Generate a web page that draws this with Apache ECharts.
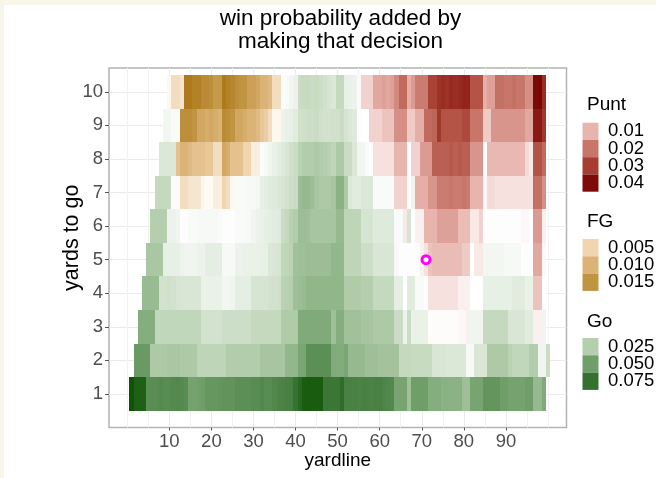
<!DOCTYPE html>
<html><head><meta charset="utf-8">
<style>
html,body{margin:0;padding:0;background:#f8f6ea;width:656px;height:478px;overflow:hidden}
#paper{position:absolute;left:4px;top:5px;width:652px;height:473px;background:#fff}
#chart{position:absolute;left:0;top:0;width:656px;height:478px;filter:blur(0.45px)}
</style>
<script src="https://cdn.jsdelivr.net/npm/echarts@6/dist/echarts.min.js"></script>
</head><body><div id="paper"></div><div id="chart"></div>
<script>
// segments: [decision, first yardline, values per yardline]
const row10=[['F',10,[.001,.004,.004,.003,.021,.021,.019,.019,.017,.017,.016,.014,.014,.021,.019,.018,.016,.015,.015,.013,.013,.012,.010,.010,.009,.004,.004]],
['G',37,[.001,.002,.004,.006,.018,.019,.019,.018,.019,.017,.016,.014,.012,.020,.020,.008,.007,.006,.002]],
['P',56,[.006,.006,.006,.012,.012,.013,.012,.013,.017,.022,.022,.011,.014,.019,.019,.019,.029,.029,.032,.033,.032,.034,.033,.034,.035,.035,.026,.026,.026,.011,.013,.013,.021,.021,.020,.020,.021,.020,.020,.016,.016,.042,.044,.033]]];
const row9=[['G',9,[.004,.004,.002,.002]],
['F',13,[.016,.016,.016,.015,.012,.012,.011,.012,.011,.010,.017,.016,.015,.012,.012,.011,.010,.010,.009,.007,.006,.004,.001,.001]],
['G',37,[.006,.007,.008,.010,.016,.016,.017,.017,.018,.016,.015,.015,.016,.016,.018,.014,.012,.011,.001,.000,.000]],
['P',58,[.006,.006,.006,.008,.008,.008,.016,.016,.016,.007,.007,.011,.011,.022,.022,.023,.031,.026,.026,.026,.026,.026,.028,.028,.020,.020,.020,.007,.007,.015,.015,.015,.015,.015,.015,.015,.015,.012,.012,.037,.037,.031]]];
const row8=[['G',8,[.012,.012,.012,.012]],
['F',12,[.008,.010,.010,.009,.008,.008,.008,.007,.007,.004,.004,.012,.011,.008,.008,.008,.005,.005,.002,.002]],
['G',32,[.001,.003,.005,.007,.009,.011,.013,.016,.018,.024,.026,.026,.026,.028,.026,.025,.024,.022,.028,.028,.018,.018,.012,.005,.004,.002,.001]],
['P',59,[.004,.004,.004,.004,.004,.010,.010,.010,.000,.006,.006,.014,.014,.014,.024,.024,.024,.024,.025,.024,.025,.024,.024,.015,.015,.015,.000,.0095,.0095,.0095,.0095,.0095,.0095,.0095,.0095,.0095,.005,.003,.026,.026,.022]]];
const row7=[['G',7,[.020,.020,.020,.020]],
['F',11,[.0004,.0006,.004,.004,.003,.003,.003,.001,.0005,.0005,.002,.002,.005,.004,.001]],
['G',26,[.002,.002,.002,.003,.003,.004,.008,.009,.010,.011,.012,.014,.015,.017,.018,.034,.036,.036,.034,.030,.028,.028,.028,.030,.040,.040,.028,.012,.010,.010,.012,.012,.012,.002,.002,.002,.002,.002]],
['P',64,[.006,.006,.006]],['G',67,[.001,.005]],
['P',69,[.011,.011,.011,.015,.015,.019,.019,.019,.020,.019,.019,.020,.019,.010,.010,.010,.001,.005,.005,.004,.004,.004,.004,.004,.004,.004,.004,.004,.021,.021,.016]]];
const row6=[['G',6,[.025,.025,.025,.025,.006,.006,.005,.001,.001,.002,.002,.003,.003,.003,.003,.003,.002,.001,.001,.001,.002,.002,.002,.003,.005,.006,.007,.008,.009,.010,.011,.018,.020,.024,.026,.034,.034,.033,.030,.030,.030,.030,.030,.030,.036,.036,.022,.022,.022,.022,.014,.014,.014,.011,.011,.011,.011,.011,.002,.002]],
['P',66,[.003]],['G',67,[.014,.000]],
['P',69,[.002,.002,.010,.010,.010,.013,.013,.013,.013,.013,.009,.009,.009,.003,.003,.006]],
['G',85,[.001,.001,.001,.001,.001,.001,.001,.001,.001]],
['P',94,[.001,.001,.000,.014,.014,.002]]];
const row5=[['G',5,[.029,.029,.029,.029,.008,.008,.008,.008,.006,.005,.005,.005,.006,.006,.009,.009,.009,.009,.003,.003,.003,.006,.006,.007,.007,.007,.007,.008,.008,.012,.013,.014,.021,.022,.023,.032,.033,.033,.034,.034,.034,.034,.034,.034,.037,.038,.037,.022,.022,.022,.022,.017,.017,.017,.013,.013,.013,.013,.013,.003,.001,.001,.001,.001,.001]],
['P',70,[.002,.004,.008,.009,.009,.009,.009,.009,.009,.009,.007,.007,.000,.003,.003]],
['G',85,[.004,.004,.004,.004,.004,.003,.003,.003,.003,.001,.001,.001]],
['P',97,[.012,.012,.001]]];
const row4=[['G',4,[.035,.035,.035,.035,.015,.015,.016,.015,.014,.013,.013,.013,.013,.013,.007,.007,.007,.007,.007,.004,.004,.005,.009,.009,.009,.009,.014,.014,.014,.014,.015,.015,.016,.023,.024,.025,.033,.034,.035,.038,.038,.038,.038,.038,.038,.038,.038,.038,.027,.027,.027,.027,.025,.025,.025,.020,.020,.020,.020,.020,.009,.009,.000,.010,.010,.002,.002,.000]],
['P',72,[.004,.004,.004,.004,.004,.004,.004,.002,.002,.002,.000,.000,.000]],
['G',85,[.008,.008,.008,.008,.008,.008,.008,.010,.010,.010,.007,.007]],
['P',97,[.008,.008]],['G',99,[.001]]];
const row3=[['G',3,[.042,.042,.042,.042,.021,.021,.021,.021,.021,.021,.021,.021,.021,.021,.021,.015,.015,.015,.015,.015,.017,.017,.017,.017,.017,.017,.017,.020,.020,.020,.020,.020,.020,.020,.027,.027,.027,.027,.044,.044,.044,.044,.044,.044,.044,.044,.033,.042,.042,.032,.032,.032,.032,.030,.030,.030,.028,.028,.028,.028,.028,.018,.018,.006,.018,.007,.007,.007,.007]],
['P',72,[.0005,.0005,.0005,.0005,.0005,.0005,.0005,.001,.001,.002]],
['G',82,[.005,.005,.005,.020,.020,.020,.020,.020,.020,.013,.013,.013,.013,.010,.010]],
['P',97,[.002,.002]],['G',99,[.005]]];
const row2=[['G',2,[.052,.052,.052,.052,.028,.028,.028,.028,.029,.029,.029,.028,.028,.028,.028,.022,.022,.022,.022,.022,.022,.022,.026,.026,.026,.026,.026,.026,.026,.026,.030,.030,.030,.030,.030,.030,.037,.037,.037,.046,.046,.058,.058,.058,.058,.058,.058,.044,.043,.043,.046,.036,.036,.036,.036,.033,.033,.033,.031,.031,.031,.031,.031,.020,.020,.020,.019,.019,.019,.019,.019,.013,.013,.013,.012,.012,.012,.012,.012,.003,.003,.013,.013,.013,.028,.028,.028,.028,.028,.024,.021,.021,.021,.021,.026,.026,.005,.005,.018]]];
const row1=[['G',1,[.098,.088,.088,.088,.058,.059,.060,.061,.060,.060,.061,.062,.061,.059,.048,.048,.049,.050,.054,.054,.054,.055,.056,.056,.056,.058,.058,.058,.058,.060,.060,.062,.060,.060,.062,.064,.065,.066,.067,.074,.082,.092,.092,.092,.092,.092,.072,.072,.072,.072,.078,.066,.066,.066,.065,.066,.066,.065,.066,.066,.064,.063,.062,.047,.047,.047,.032,.050,.050,.050,.050,.042,.042,.042,.040,.040,.040,.040,.040,.033,.033,.047,.047,.047,.055,.055,.055,.055,.050,.050,.048,.048,.048,.048,.050,.050,.036,.036,.044]]];
const rows=[row1,row2,row3,row4,row5,row6,row7,row8,row9,row10];

const xMajorTicks=[10,20,30,40,50,60,70,80,90];
const xAllGrid=[0,5,10,15,20,25,30,35,40,45,50,55,60,65,70,75,80,85,90,95,100];
const yTicks=[1,2,3,4,5,6,7,8,9,10];
const marker=[[71,5]];
const puntLegend=['0.01','0.02','0.03','0.04'];
const fgLegend=['0.005','0.010','0.015'];
const goLegend=['0.025','0.050','0.075'];
const ramps={
 P:[[0,'#ffffff'],[.01,'#e8b4ae'],[.02,'#c8766a'],[.03,'#a53d30'],[.04,'#7f0a0a'],[.05,'#760000']],
 F:[[0,'#ffffff'],[.005,'#f0d5b0'],[.01,'#dcb377'],[.015,'#c19442'],[.02,'#b07d20'],[.025,'#a87010']],
 G:[[0,'#ffffff'],[.025,'#b5cfae'],[.05,'#6f9e68'],[.075,'#347030'],[.1,'#0c5200']]
};
function shade(kind,v){
 const r=ramps[kind];
 for(let i=1;i<r.length;i++){ if(v<=r[i][0]){
   return echarts.color.lerp((v-r[i-1][0])/(r[i][0]-r[i-1][0]),[r[i-1][1],r[i][1]]);
 }}
 return r[r.length-1][1];
}
const cells=[];
rows.forEach((row,i)=>row.forEach(seg=>seg[2].forEach((v,k)=>cells.push([seg[1]+k,i+1,v,seg[0]]))));

const FONT='"Liberation Sans",Arial,sans-serif';
const graphics=[];
function legendBlock(title,kind,labels,titleY,swTop,step){
 graphics.push({type:'text',x:587,y:titleY,style:{text:title,fill:'#000',font:'19px '+FONT,textVerticalAlign:'middle'}});
 labels.forEach((l,i)=>{
  graphics.push({type:'rect',shape:{x:582.5,y:swTop+i*step,width:16,height:step},style:{fill:shade(kind,+l)}});
  graphics.push({type:'text',x:608,y:swTop+(i+.5)*step,style:{text:l,fill:'#000',font:'18.5px '+FONT,textVerticalAlign:'middle'}});
 });
}
legendBlock('Punt','P',puntLegend,105,122.7,17.25);
legendBlock('FG','F',fgLegend,222,239,17.3);
legendBlock('Go','G',goLegend,322,338,17.3);

const XMIN=-4.33,XMAX=104.39,YMIN=0,YMAX=10.71;
const chart=echarts.init(document.getElementById('chart'),null,{renderer:'canvas'});
chart.setOption({
 animation:false,
 backgroundColor:'transparent',
 textStyle:{fontFamily:FONT},
 title:{text:'win probability added by\nmaking that decision',left:335.5,top:2,textAlign:'center',
  textStyle:{fontSize:22.5,fontWeight:'normal',color:'#000',lineHeight:23,fontFamily:FONT}},
 grid:{left:109,right:89.5,top:68,bottom:50.5,show:true,borderColor:'#b3b3b3',borderWidth:1.5,backgroundColor:'#fff',outerBoundsMode:'none'},
 xAxis:[
  {type:'value',min:XMIN,max:XMAX,position:'bottom',
   axisLine:{show:false,onZero:false},axisLabel:{show:false},axisTick:{show:false,customValues:xAllGrid},
   splitLine:{show:true,lineStyle:{color:'#f2f2f2',width:1}}},
  {type:'value',min:XMIN,max:XMAX,position:'bottom',name:'yardline',nameLocation:'middle',nameGap:23.5,nameMoveOverlap:false,
   nameTextStyle:{fontSize:19,color:'#000',fontFamily:FONT},
   axisLine:{show:false,onZero:false},
   axisTick:{show:true,length:3,customValues:xMajorTicks,lineStyle:{color:'#555',width:1}},
   axisLabel:{customValues:xMajorTicks,fontSize:18.5,color:'#4d4d4d',margin:5,fontFamily:FONT},
   splitLine:{show:true,lineStyle:{color:'#ebebeb',width:1}}}
 ],
 yAxis:{type:'value',min:YMIN,max:YMAX,name:'yards to go',nameLocation:'middle',nameGap:26,nameMoveOverlap:false,
   nameTextStyle:{fontSize:21.5,color:'#000',fontFamily:FONT,padding:[0,0,0,20]},
   axisLine:{show:false,onZero:false},
   axisTick:{show:true,length:4,customValues:yTicks,lineStyle:{color:'#555',width:1}},
   axisLabel:{customValues:yTicks,fontSize:18.5,color:'#4d4d4d',margin:6,padding:[2,0,0,0],fontFamily:FONT},
   splitLine:{show:true,lineStyle:{color:'#ebebeb',width:1}}},
 series:[
  {type:'custom',xAxisIndex:0,yAxisIndex:0,data:cells,encode:{x:0,y:1},z:3,silent:true,
   renderItem(params,api){
    const x=api.value(0),y=api.value(1),v=api.value(2),d=cells[params.dataIndex][3];
    const a=api.coord([x-.5,y+.5]),b=api.coord([x+.5,y-.5]);
    const x0=Math.round(a[0]),x1=Math.round(b[0]),y0=Math.round(a[1]),y1=Math.round(b[1]);
    return {type:'rect',shape:{x:x0,y:y0,width:x1-x0,height:y1-y0},style:{fill:shade(d,v)}};
   }},
  {type:'scatter',xAxisIndex:0,yAxisIndex:0,data:marker,symbol:'circle',symbolSize:8,z:5,silent:true,
   itemStyle:{color:'#fff',borderColor:'#ff00ff',borderWidth:3,opacity:1}}
 ],
 graphic:{elements:graphics}
});
</script></body></html>
